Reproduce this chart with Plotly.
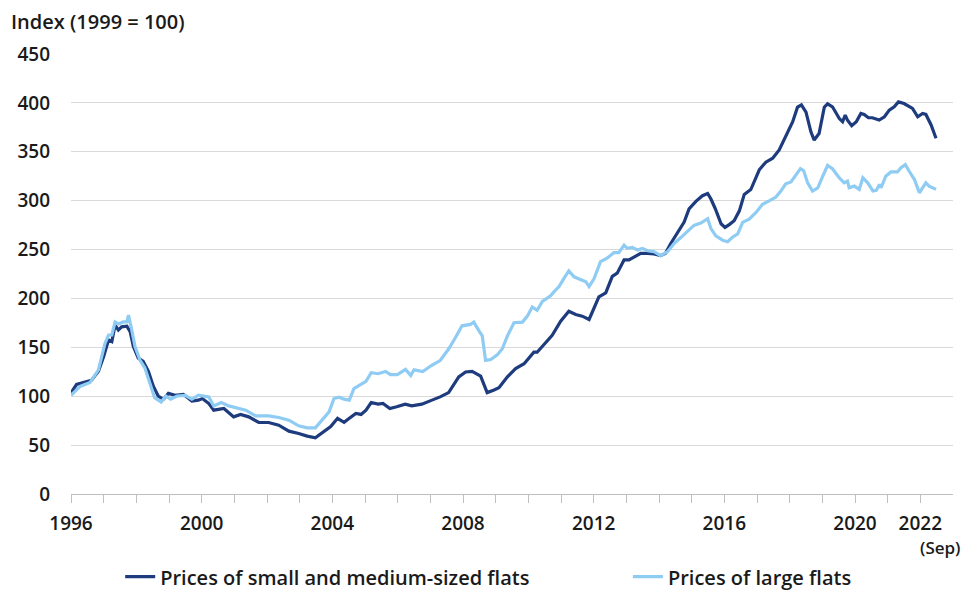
import plotly.graph_objects as go

# Decimal-year positions of readings (small & medium-sized flats)
years_small = [1996.00, 1996.17, 1996.43, 1996.63, 1996.84, 1997.00, 1997.15, 1997.25, 1997.35, 1997.45,
               1997.55, 1997.71, 1997.81, 1997.91, 1998.06, 1998.21, 1998.37, 1998.52, 1998.67, 1998.83,
               1998.98, 1999.19, 1999.44, 1999.70, 1999.90, 2000.02, 2000.22, 2000.37, 2000.68, 2000.98,
               2001.19, 2001.44, 2001.75, 2002.05, 2002.36, 2002.67, 2002.97, 2003.23, 2003.48, 2003.74,
               2003.95, 2004.16, 2004.36, 2004.52, 2004.72, 2004.88, 2005.03, 2005.19, 2005.40, 2005.55,
               2005.76, 2005.97, 2006.23, 2006.43, 2006.74, 2007.05, 2007.30, 2007.56, 2007.71, 2007.87,
               2008.08, 2008.28, 2008.54, 2008.64, 2008.74, 2008.95, 2009.10, 2009.36, 2009.61, 2009.87,
               2010.17, 2010.27, 2010.48, 2010.73, 2010.99, 2011.24, 2011.45, 2011.65, 2011.86, 2012.01,
               2012.16, 2012.37, 2012.57, 2012.72, 2012.93, 2013.08, 2013.24, 2013.44, 2013.65, 2013.85,
               2014.05, 2014.20, 2014.36, 2014.57, 2014.77, 2014.92, 2015.13, 2015.33, 2015.49, 2015.59,
               2015.72, 2015.90, 2016.02, 2016.15, 2016.30, 2016.46, 2016.61, 2016.81, 2017.07, 2017.27,
               2017.48, 2017.68, 2017.88, 2018.09, 2018.24, 2018.36, 2018.50, 2018.65, 2018.75, 2018.90,
               2019.06, 2019.16, 2019.31, 2019.45, 2019.52, 2019.62, 2019.70, 2019.77, 2019.90, 2020.04,
               2020.18, 2020.28, 2020.41, 2020.53, 2020.74, 2020.90, 2021.05, 2021.20, 2021.33, 2021.50,
               2021.66, 2021.76, 2021.92, 2022.07, 2022.17, 2022.33, 2022.48]
small_medium = [103.5, 112, 114.4, 116.4, 125.5, 140.7, 157.6, 155.9, 172.8, 167.7,
                171, 171.7, 166, 150.8, 139, 135.6, 125.5, 110.3, 100.2, 96.9,
                102.9, 100.9, 101.9, 95.1, 96, 97.6, 92.5, 85.7, 87.4, 78.9,
                81.3, 78.9, 73.1, 73.1, 70.4, 64.3, 61.9, 59.2, 57.5, 63.6,
                68.9, 77.4, 73.3, 77.4, 82.4, 81.4, 85.8, 93.6, 91.9, 92.6,
                87.5, 89.2, 91.9, 90.2, 91.9, 96, 99.3, 103.7, 111, 119.8,
                124.8, 125.5, 120.5, 111.4, 103.7, 106.4, 108.7, 119.8, 128.2, 133.2,
                145, 145, 153.4, 162.4, 176.8, 186.9, 183.6, 181.9, 178.5, 189.5,
                201.5, 205.7, 222.6, 225.9, 239.4, 239.4, 242.8, 246.1, 246.1, 245.5,
                243.8, 246.1, 256.2, 268, 278.1, 291.6, 299.3, 305.1, 307.4, 301.7,
                292, 276.4, 272.7, 275.5, 279.5, 289.6, 306.4, 311.4, 331.6, 339.4,
                343.4, 351.9, 365.3, 380.5, 395.6, 398, 390.6, 370.4, 362, 368.7,
                395.6, 399, 396, 388, 384, 380.7, 387.5, 382.4, 376.7, 380.7,
                389.2, 388.2, 384.8, 384.8, 382.4, 385.8, 392.6, 396, 401, 399.3,
                396, 394.3, 385.8, 389.2, 388.2, 377.4, 363.9]

# Decimal-year positions of readings (large flats)
years_large = [1996.00, 1996.28, 1996.58, 1996.84, 1997.04, 1997.15, 1997.25, 1997.35, 1997.45, 1997.60,
               1997.71, 1997.76, 1997.84, 1997.96, 1998.11, 1998.26, 1998.41, 1998.56, 1998.76, 1998.90,
               1999.05, 1999.25, 1999.50, 1999.70, 1999.90, 2000.05, 2000.22, 2000.37, 2000.60, 2000.83,
               2001.10, 2001.35, 2001.65, 2002.05, 2002.36, 2002.67, 2002.97, 2003.23, 2003.48, 2003.69,
               2003.90, 2004.05, 2004.20, 2004.36, 2004.52, 2004.66, 2004.87, 2005.03, 2005.19, 2005.40,
               2005.63, 2005.78, 2005.99, 2006.24, 2006.40, 2006.50, 2006.77, 2007.03, 2007.30, 2007.56,
               2007.77, 2007.97, 2008.23, 2008.33, 2008.49, 2008.59, 2008.69, 2008.85, 2009.05, 2009.20,
               2009.36, 2009.56, 2009.82, 2009.97, 2010.12, 2010.27, 2010.43, 2010.68, 2010.79, 2010.94,
               2011.09, 2011.24, 2011.40, 2011.60, 2011.76, 2011.86, 2012.01, 2012.21, 2012.41, 2012.62,
               2012.77, 2012.93, 2013.03, 2013.18, 2013.34, 2013.49, 2013.65, 2013.85, 2014.05, 2014.26,
               2014.46, 2014.66, 2014.87, 2015.07, 2015.28, 2015.49, 2015.59, 2015.74, 2015.95, 2016.10,
               2016.25, 2016.41, 2016.56, 2016.76, 2016.97, 2017.17, 2017.37, 2017.58, 2017.73, 2017.88,
               2018.04, 2018.19, 2018.33, 2018.43, 2018.55, 2018.70, 2018.86, 2019.01, 2019.16, 2019.31,
               2019.52, 2019.67, 2019.77, 2019.82, 2019.98, 2020.13, 2020.24, 2020.39, 2020.55, 2020.65,
               2020.75, 2020.80, 2020.94, 2021.10, 2021.30, 2021.40, 2021.54, 2021.66, 2021.82, 2021.97,
               2022.07, 2022.17, 2022.27, 2022.48]
large = [101, 110, 114, 127, 154, 162.6, 162.6, 176, 174, 176,
         176, 183, 171, 150.8, 137, 129, 113.7, 98.5, 94, 100.2,
         96.9, 100.2, 100.9, 96.9, 101, 100.5, 99.3, 90.1, 93.5, 90.1,
         87.4, 85.7, 79.9, 79.9, 78.2, 75.5, 69.7, 67.7, 67.7, 75.5,
         84, 97.6, 99, 97, 96, 107.8, 111.8, 115.2, 124, 123,
         125.3, 122, 122, 127.4, 121.3, 127, 125.3, 131.4, 136.5, 148.3,
         160.1, 172, 173.5, 175.8, 166.8, 161.7, 136.6, 137.6, 142.3, 148.3,
         161.7, 175.2, 175.8, 181.9, 191.3, 187.9, 197, 202.7, 207, 212.1,
         220.5, 228.2, 222.1, 219.5, 217.1, 212.1, 220, 237.7, 241.1, 246.8,
         246.8, 254.5, 251.2, 252.2, 249.5, 251.2, 248.8, 247.8, 243.8, 247.8,
         256.2, 262, 269, 274.7, 277.1, 281.5, 271.4, 264, 259.6, 258,
         262.6, 266, 277.8, 281.1, 287.9, 296.3, 299.7, 303.7, 309.8, 317.2,
         319.2, 325.9, 332.7, 330.6, 318.2, 309.8, 313.1, 324.9, 336, 332.7,
         323.3, 318.2, 320, 313.2, 314.9, 311.5, 323.3, 318.2, 309.8, 310.5,
         316.6, 313.2, 325, 329.4, 329.4, 333.4, 336.8, 330.1, 321.6, 308.1,
         313.2, 318.2, 314.9, 311.5]

tick_years = list(range(1996, 2023))
labelled = {1996, 2000, 2004, 2008, 2012, 2016, 2020, 2022}
tick_text = [str(y) if y in labelled else "" for y in tick_years]
y_ticks = [0, 50, 100, 150, 200, 250, 300, 350, 400, 450]

series_names = ["Prices of small and medium-sized flats", "Prices of large flats"]

DARK = "#1d3b7d"
LIGHT = "#8fccf4"
FONT = "Open Sans"
TXT = "#1a1a1a"
NBSP = "\u00a0"

fig = go.Figure()
fig.add_trace(go.Scatter(x=years_small, y=small_medium, mode="lines",
                         name=series_names[0] + NBSP * 18,
                         line=dict(color=DARK, width=3.2)))
fig.add_trace(go.Scatter(x=years_large, y=large, mode="lines",
                         name=series_names[1],
                         line=dict(color=LIGHT, width=3.2)))

fig.update_layout(
    width=970, height=608,
    margin=dict(l=71, r=17, t=54, b=109),
    paper_bgcolor="white", plot_bgcolor="white",
    font=dict(family=FONT, color=TXT, size=19, weight=600),
    showlegend=True,
    legend=dict(orientation="h", x=0.473, xanchor="center", y=-0.188, yanchor="middle",
                font=dict(size=20, family=FONT, color=TXT, weight=600),
                itemwidth=30, tracegroupgap=0),
    xaxis=dict(range=[1996, 2023], tickmode="array", tickvals=tick_years, ticktext=tick_text,
               showgrid=False, zeroline=False, showline=True, linecolor="#bfbfbf", linewidth=1,
               ticks="outside", ticklen=8, tickcolor="#bfbfbf", tickwidth=1,
               ticklabelstandoff=4,
               tickfont=dict(size=19, family=FONT, color=TXT, weight=600), tickangle=0),
    yaxis=dict(range=[0, 450], tickmode="array", tickvals=y_ticks,
               showgrid=True, gridcolor="#d9d9d9", gridwidth=1, zeroline=False,
               showline=False, ticks="", ticklabelstandoff=20,
               tickfont=dict(size=19, family=FONT, color=TXT, weight=600)),
    annotations=[
        dict(text="Index (1999 = 100)", xref="paper", yref="paper",
             x=-0.07, y=1.073, xanchor="left", yanchor="middle", showarrow=False,
             font=dict(size=20, family=FONT, color=TXT, weight=600)),
        dict(text="(Sep)", xref="x", yref="paper", x=2022.62, y=-0.122,
             xanchor="center", yanchor="middle", showarrow=False,
             font=dict(size=17, family=FONT, color=TXT, weight=600)),
    ],
)

fig.write_html("out.html")
